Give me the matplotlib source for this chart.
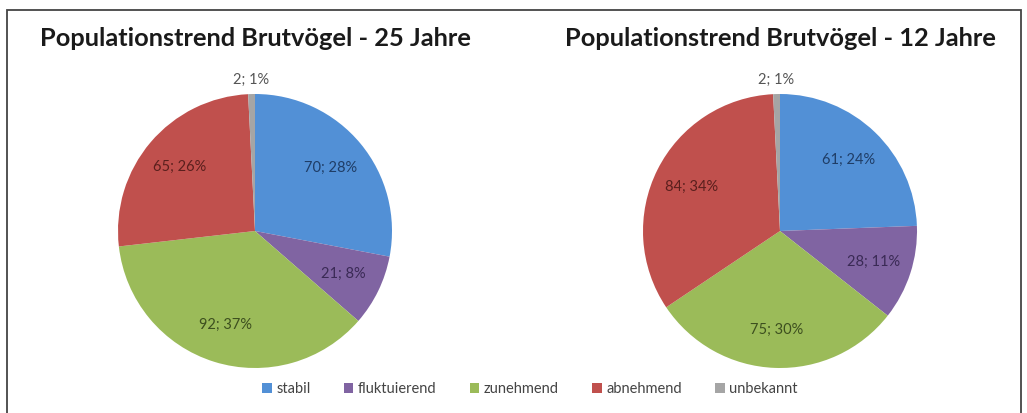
import matplotlib
matplotlib.use('Agg')
from matplotlib import pyplot as plt
from matplotlib.patches import Rectangle, Patch

plt.rcParams['font.family'] = ['Lato', 'DejaVu Sans']

categories = ['stabil', 'fluktuierend', 'zunehmend', 'abnehmend', 'unbekannt']
colors = ['#5290D6', '#8064A2', '#9BBB59', '#C0504D', '#A5A5A5']
label_colors = ['#1f3d66', '#3a2a55', '#3d4f1f', '#5a1f1d', '#555555']

titles = ['Populationstrend Brutvögel - 25 Jahre', 'Populationstrend Brutvögel - 12 Jahre']
counts_25 = [70, 21, 92, 65, 2]
counts_12 = [61, 28, 75, 84, 2]

W, H = 1027, 413
fig = plt.figure(figsize=(W / 100, H / 100), dpi=100)
fig.patch.set_facecolor('white')

# outer frame (bottom edge is cut off in the reference)
fig.patches.append(Rectangle((7 / W, -0.05), (1021 - 7) / W, 1.05 - 10 / H,
                             transform=fig.transFigure, fill=False,
                             edgecolor='#444444', linewidth=1.3))


def draw_pie(cx, cy, r, counts, title):
    ax = fig.add_axes([(cx - r) / W, (H - cy - r) / H, 2 * r / W, 2 * r / H])
    total = sum(counts)
    labels = ['%d; %d%%' % (c, round(100 * c / total)) for c in counts]
    wedges, texts = ax.pie(counts, labels=labels, colors=colors, startangle=90,
                           counterclock=False, labeldistance=0.72,
                           wedgeprops={'linewidth': 0})
    for t, lc in zip(texts, label_colors):
        t.set_ha('center')
        t.set_va('center')
        t.set_fontsize(10.5)
        t.set_color(lc)
    # the tiny slice gets its label outside
    x, y = texts[-1].get_position()
    texts[-1].set_position((x / 0.72 * 1.1, y / 0.72 * 1.1))
    ax.set_xlim(-1, 1)
    ax.set_ylim(-1, 1)
    ax.set_aspect('equal')
    fig.text(cx / W, 1 - 38 / H, title, ha='center', va='center',
             fontsize=18.3, fontweight='bold', color='#1a1a1a')


draw_pie(255, 231, 137, counts_25, titles[0])
draw_pie(780, 231, 137, counts_12, titles[1])

handles = [Patch(facecolor=c, edgecolor='none') for c in colors]
fig.legend(handles, categories, loc='center', bbox_to_anchor=(530 / W, 1 - 389 / H),
           ncol=5, frameon=False, fontsize=10.5, handlelength=0.65, handleheight=0.65,
           handletextpad=0.3, columnspacing=2.3, labelcolor='#444444')

fig.savefig('out.png', dpi=100)
